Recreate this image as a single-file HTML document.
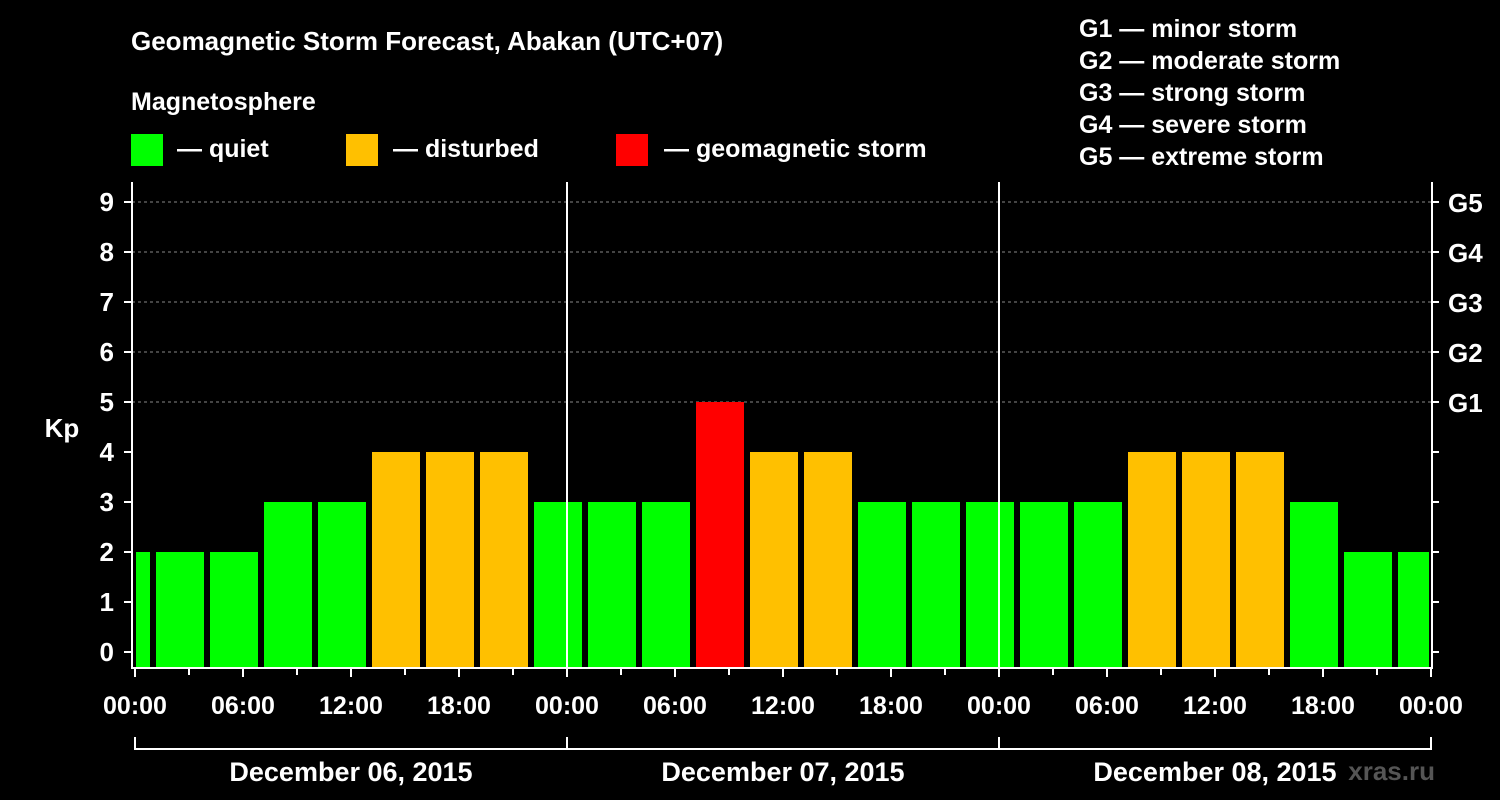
<!DOCTYPE html>
<html><head><meta charset="utf-8"><style>
html,body{margin:0;padding:0;background:#000;}
svg{display:block;font-family:"Liberation Sans",Arial,sans-serif;font-weight:bold;}
</style></head><body>
<svg id="chart" width="1500" height="800" viewBox="0 0 1500 800" xmlns="http://www.w3.org/2000/svg">
<rect width="1500" height="800" fill="#000"/>
<text x="131" y="50" fill="#fff" font-size="26">Geomagnetic Storm Forecast, Abakan (UTC+07)</text>
<text x="131" y="110" fill="#fff" font-size="25">Magnetosphere</text>
<g><rect x="131" y="134" width="32" height="32" fill="#00ff00"/><text x="177" y="157" fill="#fff" font-size="25">— quiet</text></g>
<g><rect x="346" y="134" width="32" height="32" fill="#ffc000"/><text x="393" y="157" fill="#fff" font-size="25">— disturbed</text></g>
<g><rect x="616" y="134" width="32" height="32" fill="#ff0000"/><text x="664" y="157" fill="#fff" font-size="25">— geomagnetic storm</text></g>
<g fill="#fff" font-size="25">
<text x="1079" y="37">G1 — minor storm</text>
<text x="1079" y="69">G2 — moderate storm</text>
<text x="1079" y="101">G3 — strong storm</text>
<text x="1079" y="133">G4 — severe storm</text>
<text x="1079" y="165">G5 — extreme storm</text>
</g>
<text x="62" y="437" fill="#fff" font-size="26" text-anchor="middle">Kp</text>
<text x="1435" y="780" fill="#555" font-size="26" text-anchor="end">xras.ru</text>
<g id="grid"></g>
<g id="bars"></g>
<g id="axes"></g>
</svg>
<script>
const kpValues=[2,2,2,3,3,4,4,4,3,3,3,5,4,4,3,3,3,3,3,4,4,4,3,2,2];
const binStartHours=[-2,1,4,7,10,13,16,19,22,25,28,31,34,37,40,43,46,49,52,55,58,61,64,67,70];
const kpTicks=[0,1,2,3,4,5,6,7,8,9];
const gLabels=["G1","G2","G3","G4","G5"];
const gLevels=[5,6,7,8,9];
const timeLabels=["00:00","06:00","12:00","18:00"];
const dayLabels=["December 06, 2015","December 07, 2015","December 08, 2015"];
const NS="http://www.w3.org/2000/svg";
const X0=135,PX_H=18,Y0=652,PX_KP=50,TOP=182,BOT=667,RIGHT=1431,LEFT=132;
const xs=h=>X0+h*PX_H, ys=k=>Y0-k*PX_KP;
function mk(p,tag,a){const e=document.createElementNS(NS,tag);for(const k in a)e.setAttribute(k,a[k]);p.appendChild(e);return e;}
const grid=document.getElementById('grid'),bars=document.getElementById('bars'),axes=document.getElementById('axes');
gLevels.forEach((k,i)=>{
 const l=mk(grid,'line',{x1:LEFT,x2:RIGHT,y1:ys(k),y2:ys(k),stroke:'#888','stroke-width':1,'stroke-dasharray':'3,3'});
 
 
 const t=mk(axes,'text',{x:1448,y:ys(k)+10,fill:'#fff','font-size':26});
 t.textContent=gLabels[i];
 
 
});
const color=k=>k>=5?'#ff0000':(k>=4?'#ffc000':'#00ff00');
kpValues.forEach((k,i)=>{
 let x1=xs(binStartHours[i])+3,x2=xs(binStartHours[i]+3)-3;
 x1=Math.max(x1,136);x2=Math.min(x2,RIGHT-2);
 const r=mk(bars,'rect',{x:x1,y:ys(k),width:x2-x1,height:BOT-ys(k),fill:color(k)});
 
 
});
// day dividers
[24,48].forEach(h=>{const l=mk(axes,'line',{x1:xs(h),x2:xs(h),y1:TOP,y2:BOT,stroke:'#fff','stroke-width':2});
 
 });
const frame=mk(axes,'path',{d:`M${LEFT} ${TOP}V${BOT+1}H${RIGHT+1}V${TOP}`,fill:'none',stroke:'#fff','stroke-width':2});


kpTicks.forEach(k=>{
 mk(axes,'line',{x1:LEFT-8,x2:LEFT,y1:ys(k),y2:ys(k),stroke:'#fff','stroke-width':2});
 mk(axes,'line',{x1:RIGHT,x2:RIGHT+8,y1:ys(k),y2:ys(k),stroke:'#fff','stroke-width':2});
 const t=mk(axes,'text',{x:114,y:ys(k)+9,fill:'#fff','font-size':26,'text-anchor':'end'});
 t.textContent=k;
 
 
});
for(let h=0;h<=72;h+=3){
 const major=h%6===0;
 mk(axes,'line',{x1:xs(h),x2:xs(h),y1:BOT,y2:BOT+(major?10:8),stroke:'#fff','stroke-width':2});
 if(major){const t=mk(axes,'text',{x:xs(h),y:714,fill:'#fff','font-size':25,'text-anchor':'middle'});
  t.textContent=timeLabels[(h/6)%4];
  
  }
}
mk(axes,'path',{d:`M${xs(0)} 737V749H${xs(72)}V737M${xs(24)} 737V749M${xs(48)} 737V749`,fill:'none',stroke:'#fff','stroke-width':2});
dayLabels.forEach((d,i)=>{const t=mk(axes,'text',{x:xs(24*i+12),y:781,fill:'#fff','font-size':27,'text-anchor':'middle'});
 t.textContent=d;
 
 });
</script>
</body></html>
